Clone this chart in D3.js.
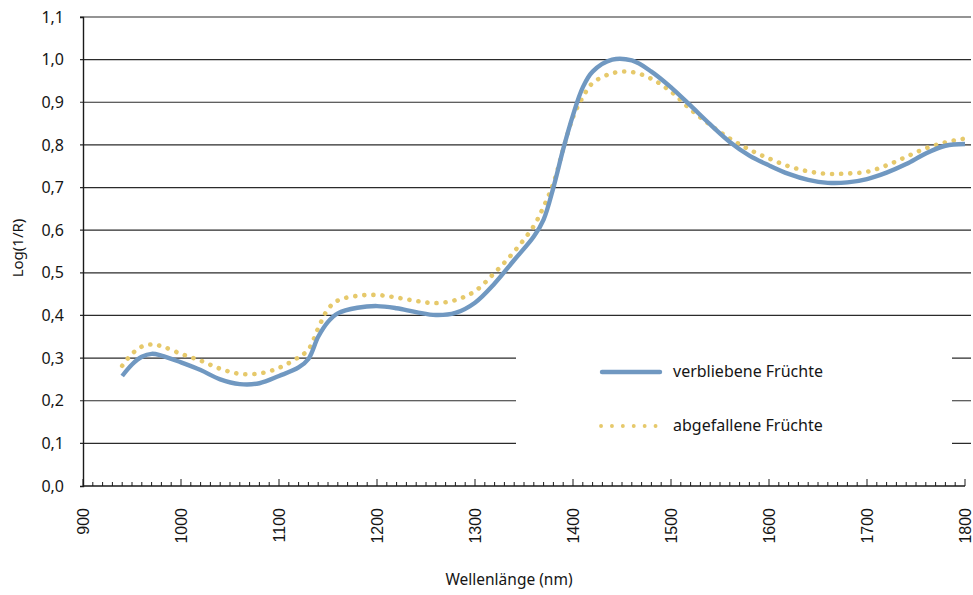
<!DOCTYPE html>
<html>
<head>
<meta charset="utf-8">
<script src="https://cdn.jsdelivr.net/npm/d3@7"></script>
<style>
  body { margin: 0; background: #fff; }
  svg { display: block; }
  text { fill: #151515; }
</style>
</head>
<body>
<div class="chart"></div>
<script>
// wavelengths in nm
const wavelengths = [940, 950, 960, 970, 980, 1000, 1020, 1040, 1060, 1080, 1100, 1120, 1130, 1140, 1150, 1160,
  1180, 1200, 1220, 1240, 1260, 1280, 1300, 1320, 1340, 1360, 1370, 1380, 1390, 1400, 1410, 1420,
  1440, 1460, 1480, 1500, 1520, 1540, 1560, 1580, 1600, 1620, 1640, 1660, 1680, 1700, 1720, 1740,
  1760, 1780, 1800];

const verbliebene = [0.258, 0.285, 0.303, 0.31, 0.306, 0.29, 0.272, 0.25, 0.239, 0.241, 0.258, 0.278, 0.298, 0.35, 0.385, 0.405,
  0.418, 0.422, 0.417, 0.408, 0.401, 0.406, 0.43, 0.475, 0.53, 0.585, 0.625, 0.70, 0.79, 0.87, 0.935, 0.972,
  1.0, 0.998, 0.972, 0.935, 0.892, 0.848, 0.807, 0.775, 0.752, 0.732, 0.718, 0.711, 0.712, 0.72, 0.735, 0.755,
  0.78, 0.798, 0.802];

const abgefallene = [0.282, 0.31, 0.327, 0.332, 0.328, 0.31, 0.294, 0.275, 0.263, 0.264, 0.277, 0.302, 0.32, 0.37, 0.415, 0.435,
  0.446, 0.448, 0.442, 0.434, 0.429, 0.436, 0.457, 0.5, 0.55, 0.61, 0.655, 0.71, 0.79, 0.865, 0.912, 0.945,
  0.968, 0.971, 0.955, 0.925, 0.883, 0.847, 0.815, 0.789, 0.768, 0.75, 0.738, 0.732, 0.733, 0.737, 0.752, 0.772,
  0.792, 0.806, 0.815];

const seriesNames = ['verbliebene Früchte', 'abgefallene Früchte'];
const yTicks = [0, 0.1, 0.2, 0.3, 0.4, 0.5, 0.6, 0.7, 0.8, 0.9, 1.0, 1.1];
const xTicks = [900, 1000, 1100, 1200, 1300, 1400, 1500, 1600, 1700, 1800];

const width = 973, height = 595;
const margin = { top: 17, right: 8, bottom: 109, left: 83 };
const plotW = 965 - margin.left;
const plotH = height - margin.top - margin.bottom;

const blue = '#7098c1', yellow = '#e6c96b';

const svg = d3.select('.chart')
  .append('svg')
    .attr('width', width)
    .attr('height', height);

const g = svg.append('g')
  .attr('transform', `translate(${margin.left}, ${margin.top})`);

const xScale = d3.scaleLinear().domain([900, 1800]).range([0, plotW]);
const yScale = d3.scaleLinear().domain([0, 1.1]).range([plotH, 0]);

// horizontal grid lines
g.append('g')
  .selectAll('line')
  .data(yTicks.slice(1))
  .enter()
  .append('line')
    .attr('x1', -3)
    .attr('x2', width - margin.left - 2)
    .attr('y1', d => yScale(d))
    .attr('y2', d => yScale(d))
    .attr('stroke', '#2b2b2b')
    .attr('stroke-width', 1.2);

// y axis
const yAxis = d3.axisLeft(yScale)
  .tickValues(yTicks)
  .tickSize(3)
  .tickPadding(16)
  .tickFormat(d => d3.format('.1f')(d).replace('.', ','));
g.append('g')
  .call(yAxis)
  .call(s => s.select('.domain').attr('stroke', '#1a1a1a').attr('stroke-width', 1.4))
  .call(s => s.selectAll('.tick line').remove())
  .selectAll('text')
    .style('font-family', '"Noto Sans", sans-serif')
    .style('font-size', '16px')
    .attr('fill', '#151515');

// x axis: ticks pointing inward, minor every 10 nm
const xAxisG = g.append('g').attr('transform', `translate(0, ${plotH})`);
xAxisG.append('line')
  .attr('x1', 0).attr('x2', plotW)
  .attr('stroke', '#1a1a1a').attr('stroke-width', 1.4);
xAxisG.selectAll('line.minor')
  .data(d3.range(900, 1801, 10))
  .enter()
  .append('line')
    .attr('class', 'minor')
    .attr('x1', d => xScale(d))
    .attr('x2', d => xScale(d))
    .attr('y1', 0)
    .attr('y2', d => d % 100 === 0 ? -7 : -4)
    .attr('stroke', '#1a1a1a')
    .attr('stroke-width', 1);
xAxisG.selectAll('text')
  .data(xTicks)
  .enter()
  .append('text')
    .attr('transform', d => `translate(${xScale(d)}, 22) rotate(-90)`)
    .attr('text-anchor', 'end')
    .attr('dy', '0.35em')
    .style('font-family', '"Liberation Sans", Arial, sans-serif')
    .style('font-size', '16px')
    .text(d => d);

// lines
const line = d3.line()
  .x((d, i) => xScale(wavelengths[i]))
  .y(d => yScale(d))
  .curve(d3.curveCatmullRom.alpha(0.5));

g.append('path')
  .datum(abgefallene)
  .attr('d', line)
  .attr('fill', 'none')
  .attr('stroke', yellow)
  .attr('stroke-width', 4.6)
  .attr('stroke-linecap', 'round')
  .attr('stroke-dasharray', '0.1 9');

g.append('path')
  .datum(verbliebene)
  .attr('d', line)
  .attr('fill', 'none')
  .attr('stroke', blue)
  .attr('stroke-width', 4.4)
  .attr('stroke-linejoin', 'round');

// legend (white box covering the grid)
const legend = svg.append('g');
legend.append('rect')
  .attr('x', 516).attr('y', 342)
  .attr('width', 436).attr('height', 112)
  .attr('fill', '#fff');
legend.append('line')
  .attr('x1', 602).attr('x2', 660)
  .attr('y1', 372).attr('y2', 372)
  .attr('stroke', blue).attr('stroke-width', 4.4)
  .attr('stroke-linecap', 'round');
legend.append('line')
  .attr('x1', 601).attr('x2', 657)
  .attr('y1', 426).attr('y2', 426)
  .attr('stroke', yellow).attr('stroke-width', 3.8)
  .attr('stroke-linecap', 'round')
  .attr('stroke-dasharray', '0.1 10.8');
legend.selectAll('text')
  .data(seriesNames)
  .enter()
  .append('text')
    .attr('x', 673)
    .attr('y', (d, i) => 371 + i * 54)
    .attr('dy', '0.35em')
    .style('font-family', '"Noto Sans", sans-serif')
    .style('font-size', '16px')
    .text(d => d);

// axis titles
svg.append('text')
  .attr('transform', 'translate(18, 248) rotate(-90)')
  .attr('text-anchor', 'middle')
  .attr('dy', '0.35em')
  .style('font-family', '"Noto Sans", sans-serif')
  .style('font-size', '15px')
  .text('Log(1/R)');

svg.append('text')
  .attr('x', 509)
  .attr('y', 585)
  .attr('text-anchor', 'middle')
  .style('font-family', '"Noto Sans", sans-serif')
  .style('font-size', '15.5px')
  .text('Wellenlänge (nm)');
</script>
</body>
</html>
